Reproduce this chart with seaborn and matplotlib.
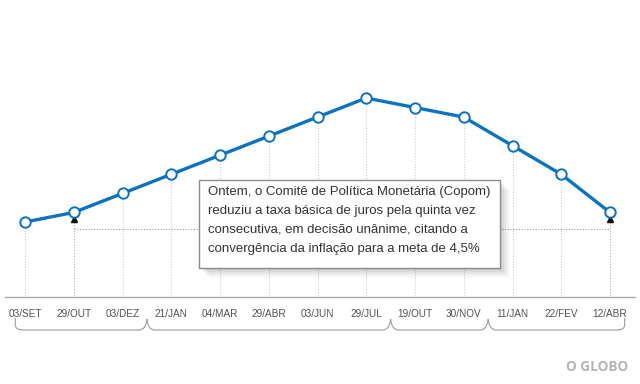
import numpy as np
import pandas as pd
import matplotlib
matplotlib.use('Agg')
import matplotlib.pyplot as plt
import matplotlib.transforms as mtransforms
from matplotlib.path import Path
from matplotlib.patches import PathPatch, Rectangle
import seaborn as sns

# dados: taxa Selic em cada reunião do Copom
datas = ['03/SET', '29/OUT', '03/DEZ', '21/JAN', '04/MAR', '29/ABR', '03/JUN',
         '29/JUL', '19/OUT', '30/NOV', '11/JAN', '22/FEV', '12/ABR']
selic = [11.0, 11.25, 11.75, 12.25, 12.75, 13.25, 13.75,
         14.25, 14.0, 13.75, 13.0, 12.25, 11.25]
# grupos de anos (indice inicial, indice final)
grupos = [(0, 2), (3, 7), (8, 9), (10, 12)]
# pontos ligados pela linha de referencia
ref_ini, ref_fim = 1, 12
texto = ('Ontem, o Comitê de Política Monetária (Copom)\n'
         'reduziu a taxa básica de juros pela quinta vez\n'
         'consecutiva, em decisão unânime, citando a\n'
         'convergência da inflação para a meta de 4,5%')

df = pd.DataFrame({'i': np.arange(len(datas)), 'selic': selic, 'data': datas})

sns.set_style('white')
plt.rcParams['font.family'] = ['Liberation Sans', 'DejaVu Sans']

W, H = 640, 384
fig = plt.figure(figsize=(W / 100, H / 100), dpi=100)
fig.patch.set_facecolor('white')
ax = fig.add_axes([0, (H - 297) / H, 1, 297 / H])

azul = '#0b72c0'

# transformacao em pixels (origem no topo)
pxT = mtransforms.Affine2D().scale(1 / W, -1 / H).translate(0, 1) + fig.transFigure
xpx = mtransforms.blended_transform_factory(ax.transData, pxT)

# linhas verticais pontilhadas ate o eixo
for i, v in zip(df['i'], df['selic']):
    if i in (ref_ini, ref_fim):
        continue
    ax.plot([i, i], [9.0, v], color='#cccccc', lw=0.8, ls=(0, (1, 1.5)), zorder=1)

# linha de referencia horizontal
y_ref = selic[ref_ini] - 17 / 38.15
for i in (ref_ini, ref_fim):
    ax.plot([i, i], [9.0, selic[i] - 6 / 38.15], color='#b0b0b0', lw=0.8,
            ls=(0, (1, 1.5)), zorder=1)
    ax.plot([i], [selic[i] - 7 / 38.15], marker='^', color='#111111', ms=4, zorder=2)
ax.plot([ref_ini, ref_fim], [y_ref, y_ref], color='#9a9a9a', lw=0.8,
        ls=(0, (1, 1.5)), zorder=1)

sns.lineplot(data=df, x='i', y='selic', ax=ax, color=azul, lw=2.4,
             marker='o', markersize=7.5, markerfacecolor='white',
             markeredgecolor=azul, markeredgewidth=1.4, zorder=5)

ax.set_xlim(-25 / 48.75, (W - 25) / 48.75)
ax.set_ylim(11.0 - 75 / 38.15, 14.25 + 98 / 38.15)
ax.set_xticks(df['i'])
ax.set_xticklabels(datas, fontsize=7.2, color='#505050',
                   family=['Liberation Sans Narrow', 'Liberation Sans', 'DejaVu Sans'])
ax.tick_params(axis='x', length=0, pad=8.5)
ax.set_yticks([])
ax.set_xlabel('')
ax.set_ylabel('')
for s in ['top', 'left', 'right']:
    ax.spines[s].set_visible(False)
ax.spines['bottom'].set_color('#aaaaaa')
ax.spines['bottom'].set_linewidth(1.0)
ax.spines['bottom'].set_bounds(-20 / 48.75, (635 - 25) / 48.75)

# chaves dos anos
bordas = [grupos[0][0] - 0.2]
for (a0, a1), (b0, b1) in zip(grupos[:-1], grupos[1:]):
    bordas.append((a1 + b0) / 2)
bordas.append(grupos[-1][1] + 0.3)
r = 8 / 48.75
yb = 330
for k in range(len(bordas) - 1):
    a, b = bordas[k], bordas[k + 1]
    verts, codes = [], []
    if k == 0:
        verts += [(a, 318), (a, 325), (a, yb), (a + r, yb)]
        codes += [Path.MOVETO, Path.LINETO, Path.CURVE3, Path.CURVE3]
    else:
        verts += [(a, 319), (a + 0.02, yb), (a + r, yb)]
        codes += [Path.MOVETO, Path.CURVE3, Path.CURVE3]
    verts += [(b - r, yb)]
    codes += [Path.LINETO]
    if k == len(bordas) - 2:
        verts += [(b, yb), (b, 325), (b, 318)]
        codes += [Path.CURVE3, Path.CURVE3, Path.LINETO]
    else:
        verts += [(b - 0.02, yb), (b, 319)]
        codes += [Path.CURVE3, Path.CURVE3]
    ax.add_patch(PathPatch(Path(verts, codes), transform=xpx, fill=False,
                           edgecolor='#9a9a9a', lw=0.8, clip_on=False))

# caixa de texto com sombra
bx0, by0, bx1, by1 = 199, 180, 500, 268
for d, al in [(10, 0.025), (8, 0.035), (6, 0.045), (4, 0.05), (2, 0.06)]:
    fig.patches.append(Rectangle((bx0 + d, by1 + d), bx1 - bx0, -(by1 - by0),
                                 transform=pxT, facecolor='#000000', alpha=al,
                                 edgecolor='none', zorder=8))
fig.patches.append(Rectangle((bx0, by1), bx1 - bx0, -(by1 - by0), transform=pxT,
                             facecolor='white', edgecolor='#8c8c8c', lw=1.0, zorder=9))
fig.text(208, 186, texto, transform=pxT, fontsize=9.5, color='#333333',
         va='top', ha='left', linespacing=1.76, zorder=10)

fig.text(628, 367, 'O GLOBO', transform=pxT, fontsize=9.8, color='#b4b4b4',
         fontweight='bold', ha='right', va='center', family=['Open Sans', 'DejaVu Sans'])

fig.savefig('out.png', dpi=100, facecolor='white')
